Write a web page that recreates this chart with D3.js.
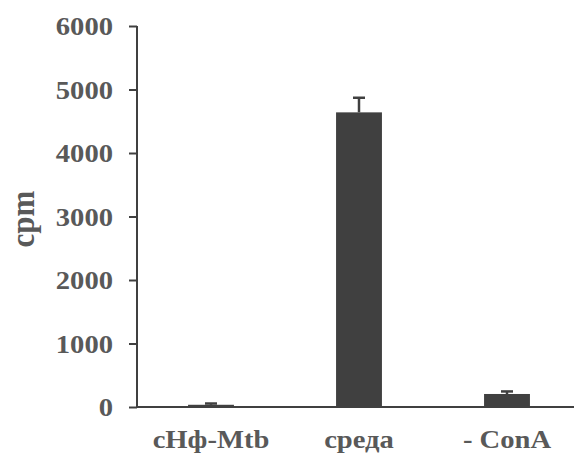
<!DOCTYPE html>
<html>
<head>
<meta charset="utf-8">
<script src="https://cdn.jsdelivr.net/npm/d3@7"></script>
<style>
  html, body { margin: 0; padding: 0; background: #fff; }
  svg { display: block; }
  text { font-family: "Liberation Serif", "Times New Roman", serif; font-weight: bold; fill: #595959; }
</style>
</head>
<body>
<svg id="chart" width="574" height="453"></svg>
<script>
// Proliferation (cpm) by stimulus
const categories = ["cНф-Mtb", "среда", "- ConA"];
const means = [35, 4640, 205];
const errors = [20, 230, 40];
const yTicks = [0, 1000, 2000, 3000, 4000, 5000, 6000];
const yTitle = "cpm";

const svg = d3.select("#chart");
const ink = "#404040";
const stretch = 1.1; // glyphs are drawn slightly wide

const x = d3.scaleBand().domain(categories).range([137, 581]).paddingInner(0.69).paddingOuter(0.345);
const y = d3.scaleLinear().domain([0, 6000]).range([407, 26]);

// y axis
const yAxis = svg.append("g")
  .attr("transform", "translate(137,0)")
  .call(d3.axisLeft(y).tickValues(yTicks).tickSize(8).tickPadding(16).tickFormat(d3.format("d")));
yAxis.selectAll("path, line").attr("stroke", ink).attr("stroke-width", 2);
yAxis.select(".domain").attr("d", `M0,${y(6000)}V${y(0)}`);
yAxis.selectAll("text")
  .style("font-size", "26px")
  .attr("dy", "0.34em")
  .attr("transform", function () {
    const tx = +d3.select(this).attr("x");
    return `translate(${tx},0) scale(${stretch},1) translate(${-tx},0)`;
  });

// bars
svg.append("g").selectAll("rect")
  .data(categories)
  .join("rect")
  .attr("x", d => x(d))
  .attr("width", x.bandwidth())
  .attr("y", (d, i) => y(means[i]))
  .attr("height", (d, i) => y(0) - y(means[i]))
  .attr("fill", ink);

// upper error bars
const eb = svg.append("g").attr("stroke", ink).attr("stroke-width", 2.5);
categories.forEach((c, i) => {
  const cx = x(c) + x.bandwidth() / 2;
  eb.append("line").attr("x1", cx).attr("x2", cx).attr("y1", y(means[i])).attr("y2", y(means[i] + errors[i]));
  eb.append("line").attr("x1", cx - 6).attr("x2", cx + 6).attr("y1", y(means[i] + errors[i])).attr("y2", y(means[i] + errors[i]));
});

// x axis
const xAxis = svg.append("g")
  .attr("transform", `translate(0,${y(0)})`)
  .call(d3.axisBottom(x).tickSize(0).tickPadding(0));
xAxis.select(".domain").attr("stroke", ink).attr("stroke-width", 2).attr("d", "M137,0H581");
xAxis.selectAll("text")
  .style("font-size", "26px")
  .attr("y", 41)
  .attr("dy", "0")
  .attr("transform", `scale(${stretch},1)`);

// y axis title
svg.append("text")
  .attr("transform", `translate(34,219) scale(${stretch},1) rotate(-90)`)
  .attr("text-anchor", "middle")
  .style("font-size", "31px")
  .text(yTitle);
</script>
</body>
</html>
